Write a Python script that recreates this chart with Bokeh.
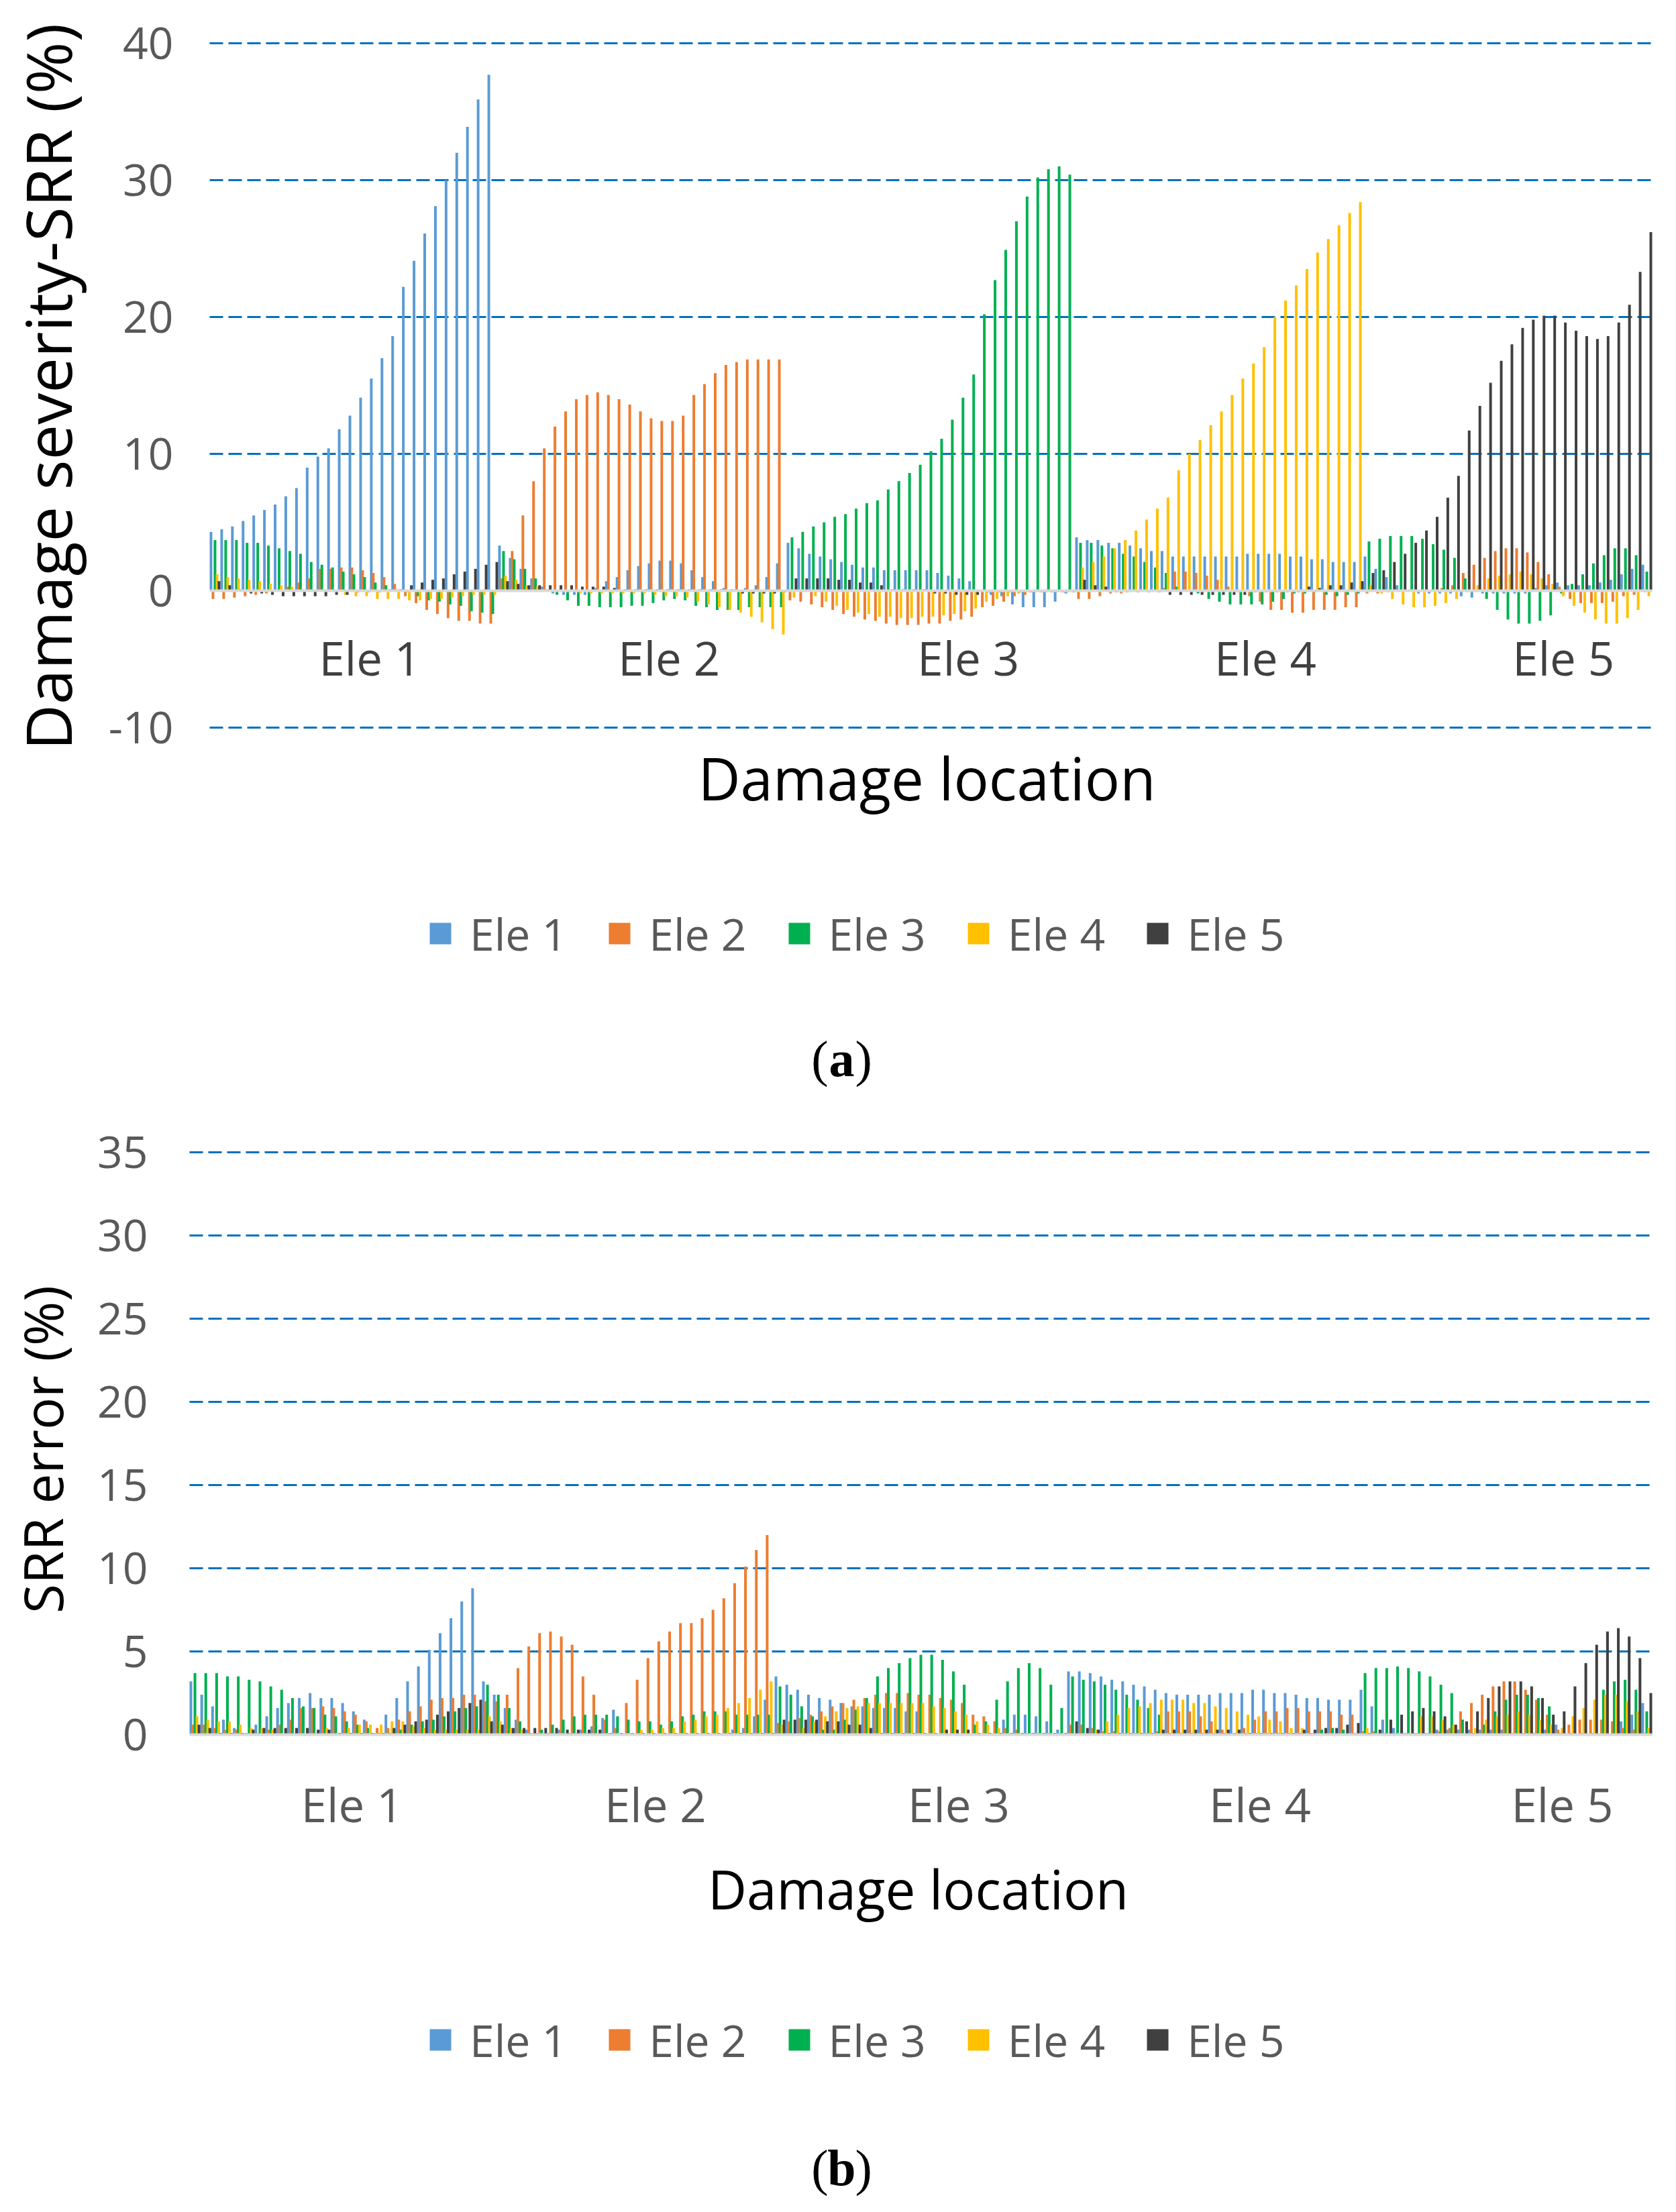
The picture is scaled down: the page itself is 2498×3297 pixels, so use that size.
import math
from bokeh.plotting import figure
from bokeh.models import Range1d, FixedTicker, Legend, LegendItem, Label, ColumnDataSource
from bokeh.layouts import column
from bokeh.embed import file_html
from bokeh.resources import INLINE

# ---------------- data ----------------
series_names = ["Ele 1", "Ele 2", "Ele 3", "Ele 4", "Ele 5"]
group_labels = ["Ele 1", "Ele 2", "Ele 3", "Ele 4", "Ele 5"]
cases_per_group = 27
cases = [f"{g} / case {k}" for g in group_labels for k in range(1, cases_per_group + 1)]
group_tick_pos = [15.0, 43.0, 71.0, 98.8, 126.7]

# (a) damage severity-SRR (%)
a_ele1 = ([4.3, 4.5, 4.7, 5.1, 5.5, 5.9, 6.3, 6.9, 7.5, 9.0, 9.8, 10.4, 11.8, 12.8, 14.1, 15.5, 17.0, 18.6, 22.2, 24.1, 26.1, 28.1, 30.0, 32.0, 33.9, 35.9, 37.7]
          + [3.3, 2.4, 1.6, 0.9, 0.3, -0.2, -0.3, -0.3, -0.3, 0.2, 0.7, 1.0, 1.5, 1.8, 2.0, 2.2, 2.2, 2.0, 1.5, 1.0, 0.7, 0.2, 0.0, 0.2, 0.4, 1.0, 2.0]
          + [3.5, 3.1, 2.7, 2.5, 2.3, 2.1, 1.9, 1.7, 1.7, 1.5, 1.5, 1.5, 1.5, 1.5, 1.3, 1.1, 0.9, 0.7, 0.0, -0.3, -0.4, -1.0, -1.2, -1.2, -1.2, -0.8, -0.2]
          + [3.9, 3.7, 3.7, 3.5, 3.5, 3.3, 3.1, 2.9, 2.9, 2.5, 2.5, 2.5, 2.5, 2.5, 2.5, 2.5, 2.7, 2.7, 2.7, 2.7, 2.5, 2.5, 2.3, 2.3, 2.1, 2.1, 2.1]
          + [2.5, 1.6, 1.0, 0.4, 0.0, -0.2, -0.2, -0.2, -0.2, -0.4, -0.5, -0.2, -0.2, -0.2, -0.2, -0.2, 0.2, 0.4, 0.6, 0.4, 0.4, 0.4, 0.6, 0.8, 1.2, 1.6, 1.9])
a_ele2 = ([-0.6, -0.6, -0.5, -0.4, -0.3, -0.2, 0.1, 0.3, 0.6, 0.9, 1.6, 1.6, 1.7, 1.7, 1.5, 1.3, 1.0, 0.5, -0.4, -0.9, -1.4, -1.7, -2.0, -2.2, -2.2, -2.4, -2.4]
          + [0.9, 2.9, 5.5, 8.0, 10.4, 12.0, 13.1, 14.0, 14.3, 14.5, 14.3, 14.0, 13.6, 13.1, 12.6, 12.4, 12.4, 12.8, 14.3, 15.1, 15.9, 16.5, 16.7, 16.9, 16.9, 16.9, 16.9]
          + [-0.7, -0.8, -1.0, -1.2, -1.4, -1.7, -1.9, -2.1, -2.2, -2.4, -2.5, -2.5, -2.5, -2.4, -2.4, -2.2, -2.1, -1.9, -1.2, -1.1, -0.8, -0.4, -0.3, -0.1, -0.1, -0.1, -0.1]
          + [-0.6, -0.6, -0.4, -0.2, -0.2, 0.0, 0.0, 0.0, 0.2, 1.4, 1.4, 1.3, 1.1, 0.8, 0.3, -0.1, -0.4, -0.8, -1.4, -1.4, -1.6, -1.6, -1.4, -1.4, -1.4, -1.2, -1.2]
          + [-0.2, -0.2, -0.1, 0.0, 0.0, 0.0, 0.0, 0.2, 0.4, 1.3, 1.9, 2.4, 2.9, 3.1, 3.1, 2.8, 2.1, 1.2, 0.3, -0.6, -0.9, -0.9, -0.9, -0.8, -0.4, -0.3, -0.1])
a_ele3 = ([3.7, 3.7, 3.7, 3.5, 3.5, 3.3, 3.1, 2.9, 2.7, 2.1, 1.9, 1.7, 1.4, 1.2, 1.0, 0.6, 0.4, 0.1, -0.1, -0.4, -0.7, -0.8, -1.0, -1.1, -1.5, -1.6, -1.7]
          + [2.9, 2.3, 1.6, 0.9, 0.1, -0.3, -0.7, -1.1, -1.1, -1.2, -1.2, -1.2, -1.1, -1.1, -0.9, -0.7, -0.6, -0.7, -1.1, -1.2, -1.4, -1.4, -1.4, -1.2, -1.2, -1.2, -1.2]
          + [3.9, 4.3, 4.7, 5.0, 5.4, 5.6, 6.0, 6.4, 6.6, 7.4, 8.0, 8.6, 9.2, 10.2, 11.1, 12.5, 14.1, 15.8, 20.2, 22.7, 24.9, 27.0, 28.8, 30.2, 30.8, 31.0, 30.4]
          + [3.5, 3.5, 3.3, 3.1, 2.7, 2.5, 2.1, 1.7, 1.3, 0.3, 0.0, -0.2, -0.6, -0.8, -1.0, -1.0, -1.0, -1.0, -0.8, -0.6, -0.2, -0.2, -0.1, -0.3, -0.4, -0.3, -0.2]
          + [3.6, 3.8, 4.0, 4.0, 4.0, 3.8, 3.4, 3.0, 2.4, 0.9, 0.0, -0.6, -1.4, -2.1, -2.4, -2.4, -2.2, -1.8, -0.2, 0.5, 1.2, 2.0, 2.6, 3.1, 3.1, 2.6, 1.4])
a_ele4 = ([1.2, 1.0, 0.9, 0.8, 0.7, 0.5, 0.4, 0.3, 0.1, 0.1, 0.1, -0.1, -0.3, -0.4, -0.4, -0.6, -0.6, -0.6, -0.7, -0.7, -0.6, -0.6, -0.5, -0.4, -0.3, -0.3, -0.3]
          + [1.1, 0.8, 0.4, 0.3, 0.1, 0.0, -0.1, -0.2, -0.2, -0.2, -0.2, -0.2, -0.2, -0.2, -0.3, -0.4, -0.4, -0.5, -0.8, -1.0, -1.2, -1.4, -1.6, -1.9, -2.3, -2.8, -3.2]
          + [-0.5, -0.1, -0.4, -0.8, -1.1, -1.4, -1.6, -1.7, -1.9, -1.9, -2.0, -2.0, -1.9, -1.9, -1.8, -1.7, -1.5, -1.3, -0.8, -0.6, -0.4, -0.2, -0.1, -0.1, -0.1, -0.1, -0.1]
          + [1.7, 2.1, 2.5, 3.1, 3.7, 4.4, 5.2, 6.0, 6.8, 8.8, 10.0, 11.0, 12.1, 13.1, 14.3, 15.5, 16.6, 17.8, 20.0, 21.2, 22.3, 23.5, 24.7, 25.7, 26.7, 27.6, 28.4]
          + [0.4, -0.2, -0.6, -1.0, -1.2, -1.2, -1.1, -0.9, -0.6, -0.1, 0.4, 0.9, 1.1, 1.2, 1.4, 1.2, 0.9, 0.5, -0.4, -1.1, -1.6, -2.1, -2.4, -2.4, -2.0, -1.4, -0.4])
a_ele5 = ([0.7, 0.4, 0.1, -0.2, -0.2, -0.3, -0.4, -0.4, -0.4, -0.4, -0.4, -0.3, -0.3, -0.1, -0.1, -0.1, 0.1, 0.1, 0.4, 0.6, 0.8, 0.9, 1.2, 1.4, 1.6, 1.9, 2.1]
          + [0.7, 0.5, 0.4, 0.4, 0.4, 0.4, 0.4, 0.3, 0.3, 0.3, 0.2, 0.1, 0.1, 0.1, 0.1, 0.1, 0.1, 0.1, 0.1, 0.1, 0.1, 0.1, -0.2, -0.2, -0.2, -0.2, -0.1]
          + [0.9, 0.9, 0.9, 0.9, 0.8, 0.8, 0.6, 0.6, 0.4, 0.1, 0.1, 0.1, 0.1, -0.2, -0.2, -0.3, -0.3, -0.3, -0.1, -0.1, -0.1, -0.1, -0.1, -0.1, -0.1, -0.1, -0.1]
          + [0.8, 0.4, 0.3, -0.1, -0.1, -0.1, -0.1, -0.1, -0.3, -0.3, -0.3, -0.3, -0.3, -0.3, -0.3, -0.3, -0.1, -0.1, -0.1, -0.1, -0.1, 0.3, 0.2, 0.4, 0.4, 0.6, 0.7]
          + [1.3, 1.5, 2.1, 2.7, 3.5, 4.4, 5.4, 6.8, 8.4, 11.7, 13.5, 15.2, 16.8, 18.0, 19.2, 19.8, 20.1, 20.1, 19.6, 19.0, 18.6, 18.4, 18.6, 19.6, 20.9, 23.3, 26.2])

# (b) SRR error (%)
b_ele1 = ([3.2, 2.4, 1.7, 0.9, 0.4, 0.1, 0.6, 1.1, 1.6, 1.9, 2.2, 2.5, 2.2, 2.2, 1.9, 1.4, 0.9, 0.1, 1.2, 2.2, 3.2, 4.1, 5.1, 6.1, 7.0, 8.0, 8.8]
          + [3.2, 2.4, 1.6, 0.9, 0.3, 0.1, 0.1, 0.3, 0.1, 0.3, 0.5, 1.0, 1.5, 0.0, 0.0, 0.0, 0.0, 0.0, 0.0, 0.0, 0.0, 0.0, 0.0, 0.3, 0.4, 1.1, 2.1]
          + [3.5, 3.0, 2.7, 2.4, 2.2, 2.1, 1.9, 1.7, 1.7, 1.6, 1.6, 1.6, 1.4, 1.4, 0.0, 0.0, 0.0, 0.0, 0.0, 0.0, 0.0, 0.9, 1.2, 1.2, 1.1, 0.8, 0.3]
          + [3.8, 3.8, 3.7, 3.5, 3.3, 3.2, 3.0, 2.9, 2.7, 2.5, 2.4, 2.4, 2.4, 2.4, 2.5, 2.5, 2.5, 2.7, 2.7, 2.5, 2.5, 2.4, 2.2, 2.2, 2.1, 2.1, 2.1]
          + [2.7, 1.7, 0.9, 0.4, 0.1, 0.1, 0.1, 0.3, 0.3, 0.3, 0.3, 0.3, 0.3, 0.3, 0.1, 0.1, 0.1, 0.3, 0.6, 0.0, 0.0, 0.0, 0.0, 0.0, 0.8, 1.2, 1.9])
b_ele2 = ([0.6, 0.6, 0.4, 0.3, 0.3, 0.1, 0.1, 0.3, 0.6, 0.9, 1.6, 1.6, 1.7, 1.6, 1.4, 1.2, 0.8, 0.4, 0.4, 0.9, 1.4, 1.7, 2.1, 2.2, 2.2, 2.4, 2.4]
          + [2.0, 2.0, 2.4, 4.0, 5.3, 6.1, 6.2, 5.9, 5.4, 3.5, 2.4, 0.9, 0.4, 1.9, 3.3, 4.6, 5.6, 6.2, 6.7, 6.7, 7.0, 7.5, 8.2, 9.1, 10.1, 11.1, 12.0]
          + [0.7, 0.8, 1.0, 1.2, 1.4, 1.7, 1.9, 2.1, 2.2, 2.4, 2.5, 2.5, 2.5, 2.4, 2.4, 2.2, 2.1, 1.9, 1.2, 1.1, 0.8, 0.4, 0.3, 0.1, 0.1, 0.1, 0.1]
          + [0.6, 0.6, 0.4, 0.2, 0.2, 0.1, 0.1, 0.1, 0.2, 1.4, 1.4, 1.4, 1.1, 0.8, 0.3, 0.1, 0.4, 0.9, 1.4, 1.4, 1.6, 1.6, 1.4, 1.4, 1.4, 1.2, 1.2]
          + [0.2, 0.2, 0.1, 0.1, 0.1, 0.1, 0.1, 0.2, 0.4, 1.4, 1.9, 2.4, 2.9, 3.2, 3.2, 2.7, 2.1, 1.2, 0.3, 0.6, 0.9, 0.9, 0.9, 0.8, 0.4, 0.3, 0.1])
b_ele3 = ([3.7, 3.7, 3.7, 3.5, 3.5, 3.3, 3.2, 2.9, 2.7, 2.2, 1.7, 1.6, 1.2, 1.1, 0.8, 0.6, 0.4, 0.1, 0.1, 0.3, 0.6, 0.8, 0.9, 1.1, 1.4, 1.6, 1.7]
          + [3.0, 2.4, 1.6, 0.8, 0.1, 0.3, 0.6, 0.9, 1.1, 1.2, 1.2, 1.2, 1.1, 0.9, 0.8, 0.8, 0.6, 0.8, 1.1, 1.2, 1.4, 1.4, 1.4, 1.2, 1.2, 1.2, 1.2]
          + [2.9, 2.4, 1.7, 1.1, 0.3, 0.3, 0.9, 1.5, 2.2, 3.5, 4.0, 4.3, 4.6, 4.8, 4.8, 4.5, 3.8, 3.0, 0.6, 0.8, 2.1, 3.2, 4.0, 4.3, 4.0, 3.0, 1.6]
          + [3.5, 3.3, 3.2, 3.0, 2.7, 2.4, 2.1, 1.6, 1.2, 0.1, 0.1, 0.1, 0.1, 0.1, 0.1, 0.1, 0.1, 0.1, 0.1, 0.1, 0.1, 0.1, 0.1, 0.3, 0.4, 0.3, 0.1]
          + [3.7, 4.0, 4.0, 4.1, 4.0, 3.8, 3.5, 3.0, 2.5, 0.9, 0.1, 0.6, 1.4, 2.1, 2.4, 2.4, 2.2, 1.7, 0.1, 0.1, 0.1, 0.1, 2.7, 3.2, 3.3, 2.7, 1.4])
b_ele4 = ([1.1, 0.9, 0.8, 0.8, 0.6, 0.4, 0.4, 0.3, 0.1, 0.1, 0.1, 0.1, 0.4, 0.1, 0.4, 0.6, 0.6, 0.6, 0.8, 0.8, 0.5, 0.4, 0.3, 0.3, 0.3, 0.3, 0.3]
          + [1.1, 0.8, 0.4, 0.3, 0.1, 0.1, 0.1, 0.1, 0.1, 0.1, 0.1, 0.1, 0.1, 0.1, 0.3, 0.3, 0.4, 0.4, 0.8, 0.9, 1.1, 1.2, 1.6, 1.9, 2.2, 2.7, 3.2]
          + [0.6, 0.1, 0.4, 0.8, 1.1, 1.4, 1.6, 1.7, 1.9, 1.9, 1.9, 1.9, 1.9, 1.9, 1.7, 1.6, 1.4, 1.2, 0.8, 0.6, 0.4, 0.1, 0.1, 0.1, 0.1, 0.1, 0.1]
          + [0.1, 0.1, 0.3, 0.8, 1.2, 1.6, 1.7, 1.9, 2.1, 2.1, 2.1, 1.9, 1.9, 1.7, 1.6, 1.4, 1.2, 1.1, 0.9, 0.8, 0.4, 0.4, 0.1, 0.1, 0.1, 0.1, 0.1]
          + [0.4, 0.1, 0.1, 0.1, 0.1, 1.1, 1.1, 0.9, 0.6, 0.1, 0.4, 0.9, 1.1, 1.2, 1.4, 1.2, 0.9, 0.6, 0.4, 1.1, 1.6, 2.1, 2.4, 2.4, 2.0, 1.4, 0.4])
b_ele5 = ([0.6, 0.4, 0.1, 0.1, 0.1, 0.3, 0.4, 0.4, 0.4, 0.4, 0.4, 0.3, 0.3, 0.1, 0.1, 0.1, 0.1, 0.1, 0.4, 0.6, 0.8, 0.9, 1.2, 1.4, 1.6, 1.9, 2.1]
          + [0.8, 0.6, 0.4, 0.4, 0.4, 0.4, 0.4, 0.3, 0.3, 0.3, 0.3, 0.1, 0.1, 0.1, 0.1, 0.1, 0.1, 0.1, 0.1, 0.1, 0.1, 0.1, 0.1, 0.1, 0.1, 0.1, 0.1]
          + [0.9, 0.9, 0.9, 0.9, 0.8, 0.8, 0.6, 0.6, 0.4, 0.1, 0.1, 0.1, 0.1, 0.1, 0.1, 0.3, 0.3, 0.3, 0.1, 0.1, 0.1, 0.1, 0.1, 0.1, 0.1, 0.1, 0.1]
          + [0.8, 0.4, 0.3, 0.1, 0.1, 0.1, 0.1, 0.1, 0.3, 0.3, 0.3, 0.3, 0.3, 0.3, 0.3, 0.3, 0.1, 0.1, 0.1, 0.1, 0.1, 0.3, 0.3, 0.4, 0.4, 0.6, 0.7]
          + [0.1, 0.3, 0.9, 1.2, 1.4, 1.6, 1.4, 1.1, 0.6, 0.8, 1.4, 2.2, 2.9, 3.2, 3.2, 2.9, 2.2, 1.2, 1.4, 2.9, 4.3, 5.4, 6.2, 6.4, 5.9, 4.6, 2.5])

a_ticks = [-10, 0, 10, 20, 30, 40]
b_ticks = [0, 5, 10, 15, 20, 25, 30, 35]

# ---------------- style / layout ----------------
COLORS = ["#5B9BD5", "#ED7D31", "#00B050", "#FFC000", "#404040"]
FONT = "Open Sans"
CAP_FONT = "Liberation Serif"
BAR_W = 0.25
OFFSETS = [-0.375, -0.1875, 0.0, 0.1875, 0.375]
GRID_COLOR = "#0070C0"
TICK_COLOR = "#595959"
PAGE_LEFT = 8
W = 2482


def build(values, fig_top, height, plot_px, y_lo, y_hi, yticks, ytitle, ytitle_px, ytitle_size,
          xlab_color, xlab_standoff, ylab_standoff, dloc_px, dloc_size,
          legend_px, cap_px, cap_letter):
    """plot_px = (left, right, top, bottom) of the data area in page pixels."""
    pl, pr, pt, pb = plot_px
    n = len(cases)
    xs = (pr - pl) / n                       # px per category
    ys = (pb - pt) / (y_hi - y_lo)           # px per y unit
    fig_bottom = fig_top + height
    x0 = (PAGE_LEFT - pl) / xs
    x1 = (PAGE_LEFT + W - pl) / xs
    y1 = y_hi + (pt - fig_top) / ys
    y0 = y_lo - (fig_bottom - pb) / ys

    def sx(px):
        return px - PAGE_LEFT

    def sy(py):
        return fig_bottom - py

    p = figure(frame_width=W, frame_height=height, output_backend="svg", toolbar_location=None,
               x_range=Range1d(x0, x1), y_range=Range1d(y0, y1), min_border=0)
    p.outline_line_color = None
    p.background_fill_color = "white"
    p.border_fill_color = "white"
    p.xgrid.visible = False
    p.ygrid.ticker = FixedTicker(ticks=[t for t in yticks if t != 0])
    p.ygrid.cross_bounds = (0, n)
    p.ygrid.grid_line_color = GRID_COLOR
    p.ygrid.grid_line_width = 3
    p.ygrid.grid_line_dash = "20 8"

    items = []
    for j, (name, vals) in enumerate(zip(series_names, values)):
        src = ColumnDataSource(dict(x=[i + 0.5 + OFFSETS[j] for i in range(n)],
                                    top=vals, case=cases))
        r = p.vbar(x="x", top="top", bottom=0, width=BAR_W, source=src,
                   fill_color=COLORS[j], line_color=None)
        items.append(LegendItem(label=name, renderers=[r]))

    # y axis drawn at x = 0 (left edge of the data area)
    ya = p.yaxis[0]
    ya.fixed_location = 0
    ya.bounds = (y_lo, y_hi)
    ya.ticker = FixedTicker(ticks=yticks)
    ya.major_label_overrides = {t: str(t) for t in yticks}
    ya.axis_line_color = None
    ya.major_tick_line_color = None
    ya.minor_tick_line_color = None
    ya.major_tick_out = 0
    ya.minor_tick_out = 0
    ya.major_label_text_font = FONT
    ya.major_label_text_font_size = "66px"
    ya.major_label_text_color = TICK_COLOR
    ya.major_label_standoff = ylab_standoff

    # x axis drawn at y = 0
    xa = p.xaxis[0]
    xa.fixed_location = 0
    xa.bounds = (0, n)
    xa.ticker = FixedTicker(ticks=group_tick_pos)
    xa.major_label_overrides = {t: g for t, g in zip(group_tick_pos, group_labels)}
    xa.axis_line_color = "#D9D9D9"
    xa.axis_line_width = 4
    xa.major_tick_line_color = None
    xa.minor_tick_line_color = None
    xa.major_tick_out = 0
    xa.minor_tick_out = 0
    xa.major_label_text_font = FONT
    xa.major_label_text_font_size = "69px"
    xa.major_label_text_color = xlab_color
    xa.major_label_standoff = xlab_standoff

    # axis titles
    p.add_layout(Label(x=sx(ytitle_px[0]), y=sy(ytitle_px[1]), x_units="screen", y_units="screen",
                       text=ytitle, angle=math.pi / 2, text_font=FONT, text_font_size=ytitle_size,
                       text_color="#000000", text_align="center", text_baseline="middle"))
    p.add_layout(Label(x=sx(dloc_px[0]), y=sy(dloc_px[1]), x_units="screen", y_units="screen",
                       text="Damage location", text_font=FONT, text_font_size=dloc_size,
                       text_color="#000000", text_align="center", text_baseline="middle"))

    # legend
    lx, ly_center = legend_px
    leg_h = 80
    legend = Legend(items=items, orientation="horizontal",
                    location=(sx(lx), sy(ly_center + leg_h / 2)),
                    border_line_color=None, background_fill_alpha=0.0, padding=0, margin=0,
                    spacing=58, label_standoff=24, glyph_width=40, glyph_height=40,
                    label_height=leg_h, label_text_font=FONT, label_text_font_size="66px",
                    label_text_color=TICK_COLOR)
    p.add_layout(legend)

    # caption "(a)" / "(b)" with a bold letter
    cx, cy = cap_px
    for txt, dx, align, style in (("(", -20, "right", "normal"), (cap_letter, 0, "center", "bold"),
                                  (")", 20, "left", "normal")):
        p.add_layout(Label(x=sx(cx + dx), y=sy(cy), x_units="screen", y_units="screen", text=txt,
                           text_font=CAP_FONT, text_font_size="76px", text_font_style=style,
                           text_color="#000000", text_align=align, text_baseline="middle"))
    return p


pa = build([a_ele1, a_ele2, a_ele3, a_ele4, a_ele5], 8, 1640, (320, 2470, 72, 1092),
           -10, 40, a_ticks, "Damage severity-SRR (%)", (78, 584), "94px",
           "#404040", 52, 54, (1389, 1166), "87px", (644, 1404), (1262, 1585), "a")
pb = build([b_ele1, b_ele2, b_ele3, b_ele4, b_ele5], 1648, 1641, (290, 2470, 1725, 2593),
           0, 35, b_ticks, "SRR error (%)", (70, 2168), "80px",
           TICK_COLOR, 56, 62, (1376, 2822), "80px", (644, 3053), (1262, 3238), "b")

layout = column(pa, pb, spacing=0)
open("out.html", "w").write(file_html(layout, INLINE))
